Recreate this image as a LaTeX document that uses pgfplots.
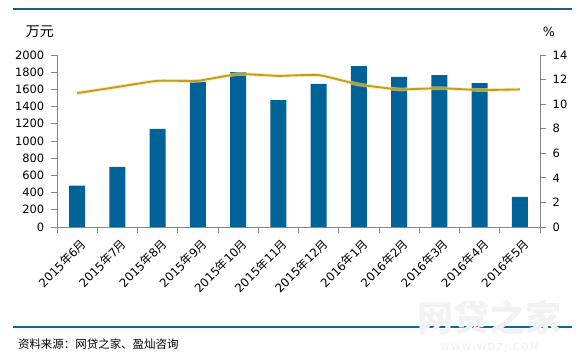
\documentclass[border=0pt]{standalone}
\usepackage{pgfplots}
\pgfplotsset{compat=1.18}
\usepackage{fontspec}
\setmainfont{DejaVu Sans}
\newfontfamily\cjk{Noto Sans CJK SC}
\definecolor{barblue}{RGB}{0,99,151}
\definecolor{gold}{RGB}{196,156,30}
\definecolor{glow}{RGB}{250,225,140}
\definecolor{topline}{RGB}{28,94,122}
\definecolor{botline}{RGB}{14,104,150}
\definecolor{axgray}{RGB}{134,134,134}
\newcommand\ym[2]{#1{\cjk 年}#2{\cjk 月}}
\begin{document}
\begin{tikzpicture}
\begin{axis}[
  name=ax1,
  scale only axis, width=362.25pt, height=129pt,
  xmin=-0.5, xmax=11.5, ymin=0, ymax=2000,
  axis y line*=left, axis x line*=bottom,
  axis line style={axgray,line width=0.6pt},
  ytick={0,200,...,2000},
  xtick={0,...,11},
  xticklabels={\ym{2015}{6},\ym{2015}{7},\ym{2015}{8},\ym{2015}{9},\ym{2015}{10},\ym{2015}{11},\ym{2015}{12},\ym{2016}{1},\ym{2016}{2},\ym{2016}{3},\ym{2016}{4},\ym{2016}{5}},
  x tick label style={rotate=45,anchor=north east,font=\fontsize{8.8}{10}\selectfont,inner sep=1pt,xshift=0pt,yshift=-3pt},
  y tick label style={font=\fontsize{8.6}{10}\selectfont,xshift=-1.5pt},
  /pgf/number format/assume math mode=true,
  /pgf/number format/1000 sep={},
  major x tick style={draw=none},
  minor xtick={-0.5,0.5,...,11.5},
  minor tick length=4.5pt,
  minor tick style={axgray,line width=0.6pt},
  major tick length=4.5pt,
  major tick style={axgray,line width=0.6pt},
  tick align=outside,
  clip=false,
]
\addplot[ybar, bar width=12pt, fill=barblue, draw=none] coordinates {
(0,480) (1,700) (2,1140) (3,1690) (4,1800) (5,1475) (6,1663) (7,1870) (8,1745) (9,1765) (10,1674) (11,350)};
\coordinate (ll) at (rel axis cs:0,0);
\end{axis}
\begin{axis}[
  at={(ll)}, anchor=origin,
  scale only axis, width=362.25pt, height=129pt,
  xmin=0, xmax=12, ymin=0, ymax=14,
  axis y line*=right, axis x line=none,
  axis line style={axgray,line width=0.6pt},
  ytick={0,2,...,14},
  y tick label style={font=\fontsize{8.6}{10}\selectfont,xshift=1.5pt},
  /pgf/number format/assume math mode=true,
  major tick length=4.5pt,
  major tick style={axgray,line width=0.6pt},
  tick align=outside,
  clip=false,
]
\addplot[glow, line width=2.8pt, smooth, tension=0.25, opacity=0.6] coordinates {
(0.5,10.9) (1.5,11.4) (2.5,11.9) (3.5,11.9) (4.5,12.45) (5.5,12.3) (6.5,12.37) (7.5,11.6) (8.5,11.2) (9.5,11.3) (10.5,11.15) (11.5,11.2)};
\addplot[gold, line width=1.4pt, smooth, tension=0.25] coordinates {
(0.5,10.9) (1.5,11.4) (2.5,11.9) (3.5,11.9) (4.5,12.45) (5.5,12.3) (6.5,12.37) (7.5,11.6) (8.5,11.2) (9.5,11.3) (10.5,11.15) (11.5,11.2)};
\end{axis}
\pgfresetboundingbox
\begin{scope}[shift={(ll)}, xshift=-42.75pt, yshift=-99.75pt, x=1pt, y=1pt]
\useasboundingbox (0,0) rectangle (438.75,270);
\draw[topline,line width=2pt] (9.75,263.25) -- (429,263.25);
\draw[botline,line width=1.9pt] (9.75,24.75) -- (429,24.75);
\node[anchor=center,font=\cjk\fontsize{10.5}{12}\selectfont] at (30,246) {万元};
\node[anchor=center,font=\fontsize{9.5}{11}\selectfont] at (411.75,246) {\%};
\node[anchor=west,font=\cjk\fontsize{8.6}{10}\selectfont] at (10,12) {资料来源：网贷之家、盈灿咨询};
\node[anchor=center,font=\cjk\bfseries\fontsize{27}{30}\selectfont,text=black!5] at (367,32) {网贷之家};
\node[anchor=center,font=\fontsize{7}{8}\selectfont,text=black!7] at (367,9) {W\,W\,W\,.\,W\,D\,Z\,J\,.\,C\,O\,M};
\end{scope}
\end{tikzpicture}
\end{document}
